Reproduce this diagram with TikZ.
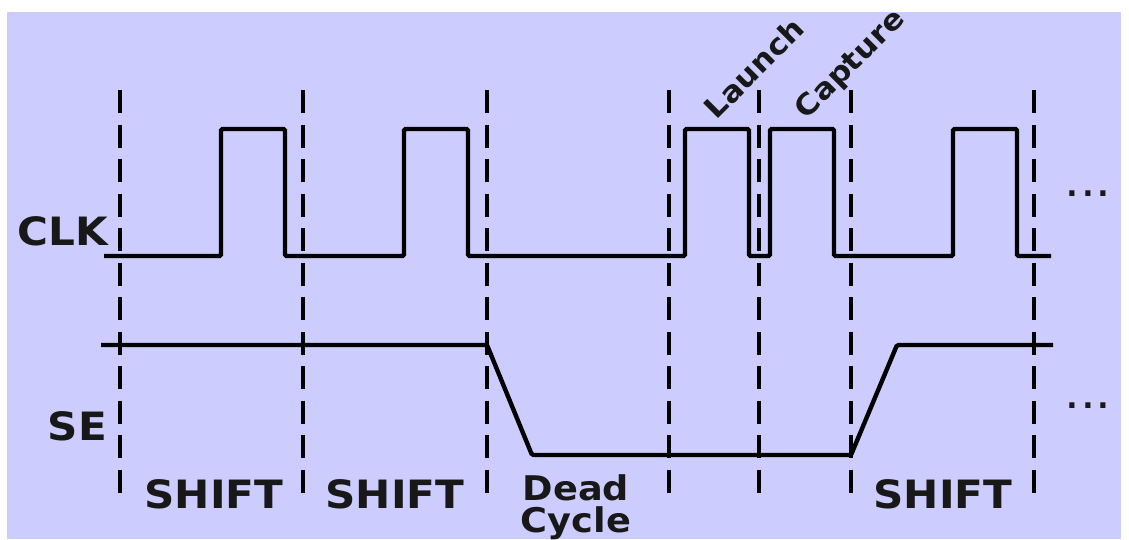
\documentclass[tikz,border=0pt]{standalone}
\usepackage{fontspec}
\setmainfont{DejaVu Sans}[FakeStretch=1.08]
\usetikzlibrary{positioning}
\definecolor{scanbg}{RGB}{204,204,255}
\definecolor{scantext}{RGB}{24,24,24}
\tikzset{
  sigline/.style={
    draw=black,
    line width=4.4pt,
    rounded corners=1.5pt
  },
  gridline/.style={
    draw=black,
    line width=4.2pt,
    dash pattern=on 23pt off 11.5pt
  },
  siglabel/.style={
    text=scantext,
    font=\bfseries\fontsize{39}{40}\selectfont,
    inner sep=0pt
  },
  deadlabel/.style={
    text=scantext,
    align=center,
    font=\bfseries\fontsize{34}{32}\selectfont,
    inner sep=0pt
  },
  pulselabel/.style={
    text=scantext,
    rotate=45,
    font=\bfseries\fontsize{29}{31}\selectfont,
    inner sep=0pt
  },
  morelabel/.style={
    text=scantext,
    font=\fontsize{46}{48}\selectfont,
    inner sep=0pt
  }
}
\begin{document}
\begin{tikzpicture}[x=1pt, y=-1pt]
  \useasboundingbox (0,0) rectangle (1129,539);
  \fill[white] (0,0) rectangle (1129,539);
  \fill[scanbg] (7,12) rectangle (1121,539);

  % cycle boundaries
  \foreach \x in {120,303,487,669,759,851,1034}
    \draw[gridline] (\x,90) -- (\x,493);

  % clock
  \draw[sigline] (104,256)
    \foreach \a/\b in {221/285,404/468,685/749,770/834,953/1017} {
      -- (\a,256) -- (\a,129) -- (\b,129) -- (\b,256)
    } -- (1051,256);

  % scan enable
  \draw[sigline] (101,345) -- (487,345) -- (532,455) -- (851,455)
    -- (897,345) -- (1053,345);

  \node[siglabel, anchor=base east] (clk) at (108,245) {CLK};
  \node[siglabel, anchor=base east] (se) at (107,440) {SE};

  \node[siglabel, anchor=base] (shifta) at (214,508) {SHIFT};
  \node[siglabel, anchor=base] (shiftb) at (395,508) {SHIFT};
  \node[siglabel, anchor=base] (shiftc) at (943,508) {SHIFT};
  \node[deadlabel, anchor=base] (dead) at (576,532) {Dead\\Cycle};

  \node[pulselabel] (launch) at (754,68) {Launch};
  \node[pulselabel] (capture) at (851,65) {Capture};

  \node[morelabel, anchor=base] (clkmore) at (1088,196) {...};
  \node[morelabel, anchor=base] (semore) at (1088,408) {...};
\end{tikzpicture}
\end{document}
